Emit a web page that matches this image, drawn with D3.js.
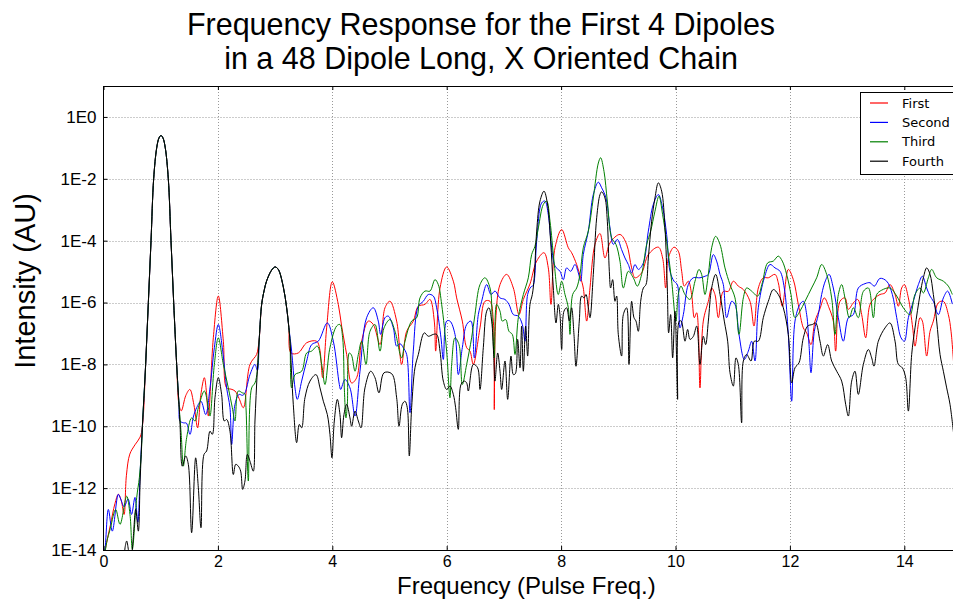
<!DOCTYPE html>
<html>
<head>
<meta charset="utf-8">
<script src="https://cdn.jsdelivr.net/npm/d3@7"></script>
<style>
  body { margin: 0; background: #fff; }
  svg { display: block; }
</style>
</head>
<body>
<svg id="chart" width="953" height="601"></svg>
<script>
const seriesNames = ["First", "Second", "Third", "Fourth"]
const seriesColors = ["#ff0000", "#0000ff", "#008000", "#000000"]
const xTicks = [0, 2, 4, 6, 8, 10, 12, 14]
const yTickExps = [0, -2, -4, -6, -8, -10, -12, -14]

// each point: [frequency (pulse freq.), log10 of intensity]
const firstSeries = [
  [0.0,-14.3],[0.05,-13.8],[0.12,-13.2],[0.2,-12.5],[0.26,-12.2],[0.31,-12.4],[0.36,-12.85],[0.4,-11.6],[0.46,-10.9],[0.55,-10.6],[0.64,-10.35],
  [0.68,-10.0],[0.737,-8.0],[0.784,-6.0],[0.831,-4.0],[0.877,-2.0],[0.93,-1.0],[0.97,-0.68],[1.005,-0.6],[1.04,-0.68],[1.08,-1.0],[1.133,-2.0],[1.18,-4.0],[1.227,-6.0],[1.279,-8.0],[1.32,-9.3],
  [1.36,-9.5],[1.44,-9.0],[1.51,-8.81],[1.58,-9.3],[1.646,-10.05],[1.7,-9.0],[1.763,-8.43],[1.8,-8.9],[1.833,-9.67],[1.92,-7.14],[2.007,-5.79],[2.095,-7.25],[2.153,-8.76],[2.23,-8.8],[2.299,-8.86],[2.37,-9.1],[2.445,-9.4],[2.561,-8.0],[2.677,-7.68],[2.7,-7.5],
  [2.724,-7.14],[2.765,-6.06],[2.81,-5.6],[2.852,-5.3],[2.94,-4.95],[3.0,-4.85],[3.056,-4.93],[3.144,-5.5],[3.202,-6.17],[3.24,-6.8],
  [3.278,-7.63],[3.406,-7.63],[3.552,-7.3],[3.726,-7.25],[3.78,-7.5],[3.831,-8.43],[3.901,-6.82],[4.0,-5.33],[4.105,-6.06],[4.163,-6.76],[4.251,-7.68],[4.338,-8.6],[4.426,-8.43],[4.513,-7.25],[4.63,-6.6],[4.717,-6.71],[4.834,-7.36],[4.921,-6.17],[5.008,-5.96],[5.125,-6.6],[5.212,-8.0],[5.3,-6.93],[5.416,-6.6],[5.504,-6.12],[5.62,-6.06],[5.708,-5.9],[5.783,-6.6],[5.807,-7.57],[5.883,-5.53],[5.999,-4.85],[6.116,-5.31],[6.174,-5.85],[6.273,-6.6],[6.349,-7.46],[6.407,-7.57],[6.465,-8.0],[6.582,-6.82],[6.669,-5.96],[6.757,-5.96],[6.815,-6.6],[6.832,-9.46],[6.856,-6.6],[6.932,-5.42],[7.048,-5.09],[7.165,-5.53],[7.264,-6.39],[7.34,-5.9],[7.456,-5.4],[7.573,-4.66],[7.701,-4.39],[7.776,-4.88],[7.823,-6.06],[7.893,-4.23],[8.01,-3.64],[8.126,-4.23],[8.184,-4.39],[8.272,-4.77],[8.342,-5.2],[8.388,-5.53],[8.447,-6.6],[8.505,-5.53],[8.592,-4.12],[8.68,-3.77],[8.767,-4.56],[8.855,-4.07],[9.029,-3.8],[9.146,-4.12],[9.233,-4.88],[9.292,-5.2],[9.408,-5.04],[9.525,-4.45],[9.7,-4.21],[9.775,-4.56],[9.828,-5.53],[9.875,-4.56],[9.974,-4.21],[10.049,-4.34],[10.108,-4.99],[10.154,-5.47],[10.224,-5.31],[10.282,-5.74],[10.329,-6.49],[10.37,-6.33],[10.399,-6.82],[10.428,-8.76],[10.486,-6.6],[10.574,-5.96],[10.632,-5.53],[10.69,-5.74],[10.749,-6.49],[10.836,-5.64],[10.923,-5.64],[11.011,-5.31],[11.098,-5.47],[11.186,-5.58],[11.302,-5.96],[11.372,-6.76],[11.448,-5.53],[11.535,-5.2],[11.623,-5.2],[11.739,-5.09],[11.797,-5.36],[11.867,-6.12],[11.972,-4.93],[12.06,-5.26],[12.147,-6.06],[12.235,-6.82],[12.293,-6.98],[12.369,-7.36],[12.439,-6.6],[12.526,-6.2],[12.602,-5.85],[12.684,-6.17],[12.759,-6.6],[12.8,-7.57],[12.876,-5.96],[12.963,-5.85],[13.022,-6.22],[13.109,-6.01],[13.185,-5.9],[13.255,-6.39],[13.325,-7.14],[13.401,-6.06],[13.488,-5.85],[13.575,-5.74],[13.663,-5.69],[13.75,-5.42],[13.838,-5.74],[13.896,-6.12],[13.954,-5.53],[14.001,-5.42],[14.071,-5.85],[14.147,-6.82],[14.187,-7.41],[14.275,-6.49],[14.316,-6.6],[14.391,-7.73],[14.45,-6.93],[14.508,-6.6],[14.595,-6.01],[14.683,-5.96],[14.77,-6.39],[14.817,-6.93],[14.86,-7.9]
]

const secondSeries = [
  [0.0,-14.3],[0.03,-13.9],[0.085,-12.69],[0.154,-13.39],[0.259,-12.2],[0.3,-12.35],[0.36,-12.6],[0.43,-12.35],[0.49,-12.85],[0.55,-12.3],[0.6,-13.1],[0.64,-11.5],
  [0.68,-10.0],[0.737,-8.0],[0.784,-6.0],[0.831,-4.0],[0.877,-2.0],[0.93,-1.0],[0.97,-0.68],[1.005,-0.6],[1.04,-0.68],[1.08,-1.0],[1.133,-2.0],[1.18,-4.0],[1.227,-6.0],[1.279,-8.0],[1.32,-9.3],
  [1.338,-9.83],[1.4,-9.89],[1.45,-9.9],[1.512,-10.26],[1.57,-9.7],[1.629,-9.4],[1.704,-9.19],[1.786,-9.62],[1.862,-8.76],[1.938,-7.46],[2.007,-6.71],[2.084,-7.57],[2.153,-8.76],[2.211,-9.4],[2.241,-10.59],[2.299,-9.29],[2.369,-8.97],[2.43,-9.0],[2.473,-8.92],[2.561,-8.33],[2.648,-8.0],[2.69,-8.2],
  [2.724,-7.14],[2.765,-6.06],[2.81,-5.6],[2.852,-5.3],[2.94,-4.95],[3.0,-4.85],[3.056,-4.93],[3.144,-5.5],[3.202,-6.17],[3.24,-6.8],
  [3.289,-7.57],[3.348,-8.76],[3.388,-9.13],[3.464,-8.54],[3.552,-7.89],[3.639,-7.36],[3.755,-7.25],[3.913,-6.66],[4.018,-7.25],[4.123,-8.65],[4.146,-8.81],[4.222,-8.49],[4.309,-8.76],[4.397,-9.67],[4.484,-8.22],[4.6,-6.49],[4.717,-6.17],[4.804,-6.6],[4.845,-7.03],[4.921,-6.49],[4.979,-6.44],[5.067,-6.82],[5.125,-7.41],[5.183,-7.33],[5.241,-7.46],[5.3,-7.68],[5.358,-9.56],[5.416,-7.57],[5.504,-6.12],[5.591,-5.96],[5.679,-5.74],[5.766,-5.79],[5.824,-6.17],[5.9,-7.14],[5.941,-7.84],[5.999,-6.6],[6.057,-6.6],[6.145,-7.03],[6.203,-8.33],[6.273,-7.46],[6.349,-6.71],[6.424,-6.6],[6.483,-7.79],[6.553,-6.39],[6.611,-5.96],[6.699,-5.42],[6.774,-5.74],[6.844,-5.63],[6.932,-5.85],[7.019,-5.9],[7.089,-6.06],[7.165,-6.39],[7.252,-6.44],[7.322,-6.71],[7.369,-7.25],[7.415,-5.74],[7.47,-5.5],[7.51,-5.45],[7.573,-4.02],[7.66,-2.78],[7.718,-2.72],[7.776,-3.16],[7.835,-4.23],[7.893,-4.82],[7.98,-4.99],[8.039,-5.26],[8.097,-4.88],[8.167,-4.99],[8.243,-4.77],[8.301,-5.04],[8.342,-5.31],[8.388,-4.45],[8.476,-3.69],[8.563,-2.51],[8.651,-2.11],[8.709,-2.29],[8.785,-2.62],[8.855,-3.59],[8.913,-4.12],[8.983,-3.96],[9.058,-4.29],[9.117,-4.56],[9.175,-4.77],[9.233,-5.04],[9.292,-4.77],[9.35,-4.93],[9.438,-4.72],[9.525,-3.69],[9.612,-2.83],[9.7,-2.51],[9.775,-2.94],[9.845,-3.8],[9.904,-4.99],[9.974,-5.31],[10.032,-5.42],[10.078,-6.82],[10.137,-6.39],[10.224,-5.42],[10.311,-5.2],[10.428,-5.2],[10.515,-5.15],[10.574,-5.09],[10.661,-4.45],[10.719,-4.66],[10.778,-5.09],[10.836,-5.42],[10.894,-6.49],[10.982,-5.96],[11.04,-6.06],[11.11,-7.03],[11.203,-7.84],[11.273,-7.57],[11.331,-7.25],[11.39,-7.89],[11.448,-6.17],[11.553,-5.2],[11.652,-4.77],[11.739,-4.88],[11.827,-4.99],[11.902,-5.53],[11.972,-7.03],[12.031,-9.19],[12.089,-6.6],[12.176,-6.06],[12.235,-5.96],[12.293,-6.39],[12.334,-7.36],[12.369,-8.27],[12.427,-6.93],[12.497,-6.39],[12.555,-5.74],[12.62,-5.3],[12.684,-5.09],[12.759,-5.53],[12.847,-6.49],[12.934,-7.25],[13.022,-6.49],[13.109,-6.39],[13.196,-5.53],[13.313,-5.39],[13.401,-5.36],[13.476,-5.47],[13.575,-5.22],[13.692,-5.31],[13.791,-5.74],[13.867,-6.49],[13.943,-7.14],[14.001,-7.25],[14.071,-6.49],[14.158,-5.96],[14.246,-5.42],[14.316,-5.15],[14.391,-5.53],[14.45,-5.79],[14.508,-5.96],[14.595,-6.39],[14.683,-5.85],[14.758,-5.63],[14.84,-6.05]
]

const thirdSeries = [
  [0.0,-14.5],[0.055,-13.76],[0.12,-13.3],[0.213,-12.69],[0.289,-13.17],[0.405,-12.26],[0.463,-12.85],[0.504,-13.98],[0.58,-12.31],[0.627,-11.66],[0.66,-10.9],
  [0.68,-10.0],[0.737,-8.0],[0.784,-6.0],[0.831,-4.0],[0.877,-2.0],[0.93,-1.0],[0.97,-0.68],[1.005,-0.6],[1.04,-0.68],[1.08,-1.0],[1.133,-2.0],[1.18,-4.0],[1.227,-6.0],[1.279,-8.0],[1.32,-9.3],
  [1.36,-10.3],[1.396,-11.29],[1.454,-10.37],[1.541,-9.73],[1.6,-9.83],[1.658,-9.4],[1.763,-8.86],[1.833,-9.4],[1.862,-9.67],[1.938,-8.0],[2.007,-7.14],[2.095,-8.0],[2.182,-8.76],[2.252,-9.4],[2.299,-9.83],[2.357,-8.86],[2.427,-8.92],[2.47,-8.95],[2.491,-9.4],[2.532,-11.77],[2.59,-8.76],[2.648,-8.6],[2.69,-8.2],
  [2.724,-7.14],[2.765,-6.06],[2.81,-5.6],[2.852,-5.3],[2.94,-4.95],[3.0,-4.85],[3.056,-4.93],[3.144,-5.5],[3.202,-6.17],[3.24,-6.8],
  [3.26,-7.25],[3.289,-8.76],[3.348,-8.33],[3.464,-8.22],[3.552,-7.63],[3.639,-7.57],[3.738,-7.41],[3.814,-8.0],[3.872,-8.65],[3.959,-7.46],[4.076,-6.76],[4.134,-6.71],[4.181,-7.14],[4.21,-8.76],[4.239,-9.73],[4.263,-9.29],[4.297,-7.63],[4.335,-7.7],[4.397,-8.22],[4.455,-7.68],[4.513,-7.25],[4.589,-8.0],[4.659,-6.93],[4.746,-6.71],[4.834,-7.57],[4.904,-6.82],[5.008,-6.55],[5.096,-6.93],[5.212,-7.79],[5.271,-7.25],[5.387,-6.6],[5.475,-6.49],[5.533,-5.85],[5.62,-5.63],[5.708,-5.63],[5.795,-5.26],[5.853,-5.42],[5.912,-6.06],[5.999,-7.57],[6.057,-9.08],[6.087,-8.0],[6.145,-7.14],[6.215,-7.36],[6.273,-8.65],[6.349,-8.0],[6.436,-7.14],[6.494,-6.39],[6.582,-5.42],[6.669,-5.2],[6.757,-5.53],[6.797,-6.6],[6.832,-7.79],[6.873,-6.06],[6.932,-6.28],[6.972,-6.6],[7.031,-6.55],[7.089,-6.93],[7.147,-7.03],[7.194,-7.68],[7.252,-6.49],[7.34,-5.74],[7.427,-5.2],[7.485,-4.45],[7.543,-4.18],[7.602,-3.59],[7.689,-2.83],[7.747,-2.72],[7.806,-3.37],[7.876,-4.66],[7.951,-5.74],[8.01,-5.31],[8.068,-5.74],[8.126,-6.17],[8.155,-7.03],[8.202,-5.74],[8.272,-5.53],[8.33,-5.09],[8.388,-4.23],[8.476,-3.69],[8.563,-2.62],[8.651,-1.49],[8.691,-1.32],[8.75,-1.76],[8.808,-2.72],[8.884,-3.91],[8.959,-4.12],[9.029,-4.66],[9.088,-5.53],[9.175,-4.99],[9.262,-5.2],[9.333,-5.47],[9.408,-5.09],[9.496,-4.12],[9.566,-3.69],[9.641,-3.05],[9.711,-2.56],[9.775,-3.16],[9.845,-4.02],[9.933,-5.31],[10.008,-6.6],[10.049,-5.74],[10.096,-5.47],[10.166,-5.74],[10.253,-5.9],[10.341,-5.31],[10.411,-4.93],[10.457,-5.09],[10.515,-5.74],[10.574,-5.09],[10.632,-4.23],[10.702,-3.86],[10.778,-4.12],[10.865,-4.88],[10.953,-5.42],[11.04,-5.85],[11.11,-7.03],[11.186,-5.85],[11.244,-5.53],[11.331,-5.63],[11.436,-5.79],[11.518,-5.36],[11.611,-4.72],[11.71,-4.66],[11.797,-4.5],[11.867,-4.66],[11.943,-5.09],[12.019,-5.74],[12.089,-6.49],[12.176,-6.28],[12.264,-5.96],[12.38,-5.53],[12.468,-5.2],[12.556,-4.77],[12.643,-5.09],[12.73,-5.85],[12.789,-7.03],[12.847,-5.74],[12.905,-5.42],[12.963,-5.85],[13.039,-6.49],[13.109,-6.17],[13.196,-6.49],[13.284,-5.64],[13.372,-5.53],[13.459,-6.49],[13.517,-5.74],[13.605,-5.6],[13.75,-5.53],[13.867,-5.79],[13.983,-6.17],[14.1,-6.39],[14.187,-5.74],[14.275,-5.53],[14.333,-5.69],[14.42,-5.2],[14.479,-4.93],[14.566,-5.2],[14.683,-5.31],[14.77,-5.47],[14.84,-5.74]
]

const fourthSeries = [
  [0.0,-15.0],[0.34,-14.6],[0.376,-13.93],[0.405,-13.71],[0.434,-13.98],[0.47,-14.6],[0.52,-13.6],[0.563,-12.69],[0.609,-13.39],[0.64,-11.8],
  [0.68,-10.0],[0.737,-8.0],[0.784,-6.0],[0.831,-4.0],[0.877,-2.0],[0.93,-1.0],[0.97,-0.68],[1.005,-0.6],[1.04,-0.68],[1.08,-1.0],[1.133,-2.0],[1.18,-4.0],[1.227,-6.0],[1.279,-8.0],[1.32,-9.3],
  [1.338,-9.94],[1.378,-11.29],[1.437,-10.96],[1.483,-11.23],[1.541,-13.44],[1.611,-11.02],[1.658,-11.99],[1.704,-13.28],[1.757,-10.91],[1.803,-10.8],[1.862,-10.16],[1.903,-10.26],[1.949,-9.08],[2.007,-8.43],[2.065,-8.97],[2.112,-9.83],[2.153,-9.78],[2.211,-10.16],[2.27,-11.56],[2.311,-11.23],[2.357,-11.29],[2.398,-11.45],[2.433,-12.04],[2.473,-11.77],[2.514,-10.91],[2.561,-11.13],[2.619,-11.45],[2.648,-9.83],[2.689,-8.22],
  [2.724,-7.14],[2.765,-6.06],[2.81,-5.6],[2.852,-5.3],[2.94,-4.95],[3.0,-4.85],[3.056,-4.93],[3.144,-5.5],[3.202,-6.17],[3.24,-6.8],
  [3.26,-7.25],[3.318,-9.29],[3.377,-10.53],[3.423,-9.94],[3.464,-10.05],[3.522,-9.08],[3.61,-8.54],[3.715,-8.33],[3.785,-8.76],[3.843,-9.19],[3.913,-9.62],[3.959,-10.26],[3.994,-11.02],[4.035,-9.83],[4.088,-9.13],[4.134,-9.62],[4.163,-10.37],[4.204,-9.62],[4.251,-9.29],[4.309,-9.73],[4.338,-10.0],[4.397,-9.51],[4.455,-9.83],[4.502,-10.05],[4.571,-8.76],[4.671,-8.22],[4.746,-8.43],[4.816,-8.92],[4.904,-8.27],[5.038,-8.3],[5.125,-9.08],[5.166,-10.0],[5.224,-9.29],[5.271,-9.19],[5.311,-9.4],[5.346,-10.96],[5.387,-9.4],[5.445,-8.11],[5.504,-7.68],[5.608,-6.98],[5.679,-7.09],[5.766,-7.03],[5.824,-7.03],[5.883,-7.57],[5.941,-8.54],[5.999,-8.81],[6.057,-8.7],[6.116,-8.97],[6.156,-9.4],[6.203,-10.1],[6.25,-8.65],[6.308,-8.54],[6.349,-8.6],[6.378,-8.86],[6.465,-8.0],[6.541,-8.11],[6.582,-8.81],[6.64,-7.46],[6.699,-6.28],[6.739,-6.17],[6.786,-6.6],[6.821,-7.68],[6.844,-8.54],[6.891,-7.63],[6.932,-8.22],[6.961,-8.81],[7.019,-7.89],[7.066,-9.13],[7.124,-7.73],[7.165,-8.33],[7.2,-8.3],[7.24,-7.19],[7.281,-8.11],[7.31,-6.76],[7.34,-8.22],[7.38,-6.76],[7.415,-7.73],[7.456,-6.06],[7.497,-5.74],[7.53,-5.2],[7.573,-3.69],[7.631,-2.72],[7.701,-2.4],[7.759,-2.78],[7.817,-4.02],[7.864,-5.53],[7.911,-6.66],[7.951,-6.06],[7.98,-6.39],[8.01,-7.52],[8.05,-6.28],[8.097,-6.17],[8.144,-6.6],[8.184,-6.17],[8.225,-7.03],[8.26,-8.06],[8.318,-6.6],[8.359,-5.79],[8.4,-5.85],[8.435,-5.74],[8.476,-6.17],[8.505,-6.49],[8.563,-5.09],[8.622,-3.26],[8.68,-2.51],[8.709,-2.42],[8.767,-2.62],[8.808,-3.37],[8.843,-4.99],[8.866,-5.53],[8.901,-5.26],[8.942,-5.96],[8.971,-5.79],[9.0,-7.03],[9.058,-7.73],[9.088,-6.39],[9.146,-6.17],[9.187,-8.0],[9.233,-5.96],[9.274,-6.49],[9.309,-6.6],[9.35,-6.93],[9.391,-5.96],[9.438,-5.53],[9.484,-5.42],[9.525,-4.56],[9.583,-3.37],[9.641,-2.62],[9.7,-2.13],[9.758,-2.4],[9.816,-3.59],[9.857,-5.53],[9.88,-6.98],[9.915,-6.39],[9.95,-7.79],[9.991,-6.28],[10.02,-7.89],[10.037,-9.13],[10.066,-6.6],[10.1,-6.6],[10.166,-7.25],[10.212,-6.87],[10.253,-7.19],[10.31,-7.1],[10.37,-6.76],[10.428,-8.0],[10.486,-7.09],[10.527,-7.36],[10.574,-6.6],[10.632,-5.53],[10.702,-5.09],[10.778,-5.74],[10.853,-6.6],[10.912,-7.25],[10.953,-8.27],[11.011,-8.7],[11.057,-7.79],[11.098,-8.0],[11.156,-9.89],[11.186,-7.89],[11.244,-7.68],[11.32,-7.89],[11.378,-7.25],[11.448,-7.25],[11.535,-6.49],[11.623,-5.96],[11.71,-5.58],[11.797,-5.74],[11.885,-6.17],[11.972,-7.03],[12.031,-8.6],[12.089,-8.11],[12.159,-7.95],[12.235,-7.14],[12.31,-6.76],[12.392,-6.71],[12.45,-6.66],[12.526,-7.25],[12.585,-7.73],[12.66,-7.36],[12.73,-7.89],[12.818,-8.22],[12.905,-8.54],[12.975,-9.29],[13.022,-9.67],[13.08,-8.54],[13.138,-8.22],[13.196,-8.97],[13.284,-8.0],[13.372,-7.52],[13.43,-7.79],[13.47,-8.06],[13.546,-7.25],[13.663,-6.82],[13.75,-6.66],[13.838,-7.25],[13.896,-8.0],[13.966,-8.11],[14.024,-8.43],[14.071,-9.51],[14.129,-7.68],[14.187,-6.82],[14.275,-5.74],[14.333,-5.2],[14.391,-4.88],[14.45,-5.09],[14.508,-5.74],[14.566,-6.6],[14.625,-7.68],[14.683,-8.22],[14.741,-8.76],[14.799,-9.29],[14.86,-10.2]
]

const allSeries = [firstSeries, secondSeries, thirdSeries, fourthSeries]

const font = "'Liberation Sans', Arial, sans-serif"
const plot = { left: 103.5, right: 961.5, top: 86, bottom: 550 }

const svg = d3.select("#chart")
svg.append("rect").attr("width", 953).attr("height", 601).attr("fill", "#fff")

const x = d3.scaleLinear().domain([0, 15]).range([plot.left, plot.right])
const y = d3.scaleLog().domain([1e-14, 1e1]).range([plot.bottom, plot.top])

svg.append("defs").append("clipPath").attr("id", "plotClip")
  .append("rect")
  .attr("x", plot.left).attr("y", plot.top)
  .attr("width", plot.right - plot.left).attr("height", plot.bottom - plot.top)

// grid
const grid = svg.append("g").attr("stroke", "#999").attr("stroke-dasharray", "1,2").attr("stroke-width", 1)
grid.selectAll(".gx").data(xTicks.filter((d) => d > 0)).enter()
  .append("line")
  .attr("x1", (d) => Math.round(x(d)) + 0.5).attr("x2", (d) => Math.round(x(d)) + 0.5)
  .attr("y1", plot.top).attr("y2", plot.bottom)
grid.selectAll(".gy").data(yTickExps.filter((e) => e > -14)).enter()
  .append("line")
  .attr("y1", (e) => Math.round(y(Math.pow(10, e))) + 0.5).attr("y2", (e) => Math.round(y(Math.pow(10, e))) + 0.5)
  .attr("x1", plot.left).attr("x2", plot.right)

// series lines
const line = d3.line()
  .x((d) => x(d[0]))
  .y((d) => y(Math.pow(10, d[1])))
  .curve(d3.curveCatmullRom.alpha(0.5))

svg.append("g").attr("clip-path", "url(#plotClip)")
  .selectAll("path")
  .data(allSeries)
  .enter()
  .append("path")
  .attr("d", line)
  .attr("fill", "none")
  .attr("stroke", (d, i) => seriesColors[i])
  .attr("stroke-width", 1)

// frame
svg.append("rect")
  .attr("x", plot.left).attr("y", plot.top + 0.5)
  .attr("width", plot.right - plot.left).attr("height", plot.bottom - plot.top)
  .attr("fill", "none").attr("stroke", "#000").attr("stroke-width", 1)

// axes
const xAxis = svg.append("g")
  .attr("transform", `translate(0,${plot.bottom})`)
  .call(d3.axisBottom(x).tickValues(xTicks).tickFormat(d3.format("d")).tickSize(-4).tickPadding(6))
const xAxisTop = svg.append("g")
  .attr("transform", `translate(0,${plot.top})`)
  .call(d3.axisTop(x).tickValues(xTicks).tickFormat("").tickSize(-4))
const yAxis = svg.append("g")
  .attr("transform", `translate(${plot.left},0)`)
  .call(d3.axisLeft(y).tickValues(yTickExps.map((e) => Math.pow(10, e)))
    .tickFormat((d) => "1E" + Math.round(Math.log10(d))).tickSize(-4).tickPadding(7))

;[xAxis, xAxisTop, yAxis].forEach((g) => {
  g.select(".domain").remove()
  g.selectAll("line").attr("stroke", "#000")
  g.selectAll("text").attr("fill", "#000").style("font-family", font)
})
xAxis.selectAll("text").style("font-size", "16px")
yAxis.selectAll("text").style("font-size", "17px")

// titles
svg.append("text")
  .attr("x", 481).attr("y", 35)
  .attr("text-anchor", "middle")
  .style("font-family", font).style("font-size", "30.5px")
  .text("Frequency Response for the First 4 Dipoles")
svg.append("text")
  .attr("x", 481).attr("y", 69)
  .attr("text-anchor", "middle")
  .style("font-family", font).style("font-size", "30.5px")
  .text("in a 48 Dipole Long, X Oriented Chain")

svg.append("text")
  .attr("x", 397).attr("y", 594)
  .style("font-family", font).style("font-size", "24px")
  .text("Frequency (Pulse Freq.)")

svg.append("text")
  .attr("transform", "translate(35,281) rotate(-90)")
  .attr("text-anchor", "middle")
  .style("font-family", font).style("font-size", "29px")
  .text("Intensity (AU)")

// legend
const legendItems = seriesNames.map((name, i) => ({ name, color: seriesColors[i] }))
const legend = svg.append("g")
legend.append("rect")
  .attr("x", 860.5).attr("y", 92.5).attr("width", 100).attr("height", 82)
  .attr("fill", "#fff").attr("stroke", "#000").attr("stroke-width", 1)
const entry = legend.selectAll(".entry")
  .data(legendItems)
  .enter()
  .append("g")
  .attr("class", "entry")
  .attr("transform", (d, i) => `translate(0,${103 + i * 19.4})`)
entry.append("line")
  .attr("x1", 870).attr("x2", 888)
  .style("stroke", (d) => d.color).style("stroke-width", 1.2)
entry.append("text")
  .attr("x", 902).attr("dy", "0.35em")
  .style("font-family", "'DejaVu Sans', sans-serif").style("font-size", "13px")
  .text((d) => d.name)
</script>
</body>
</html>
